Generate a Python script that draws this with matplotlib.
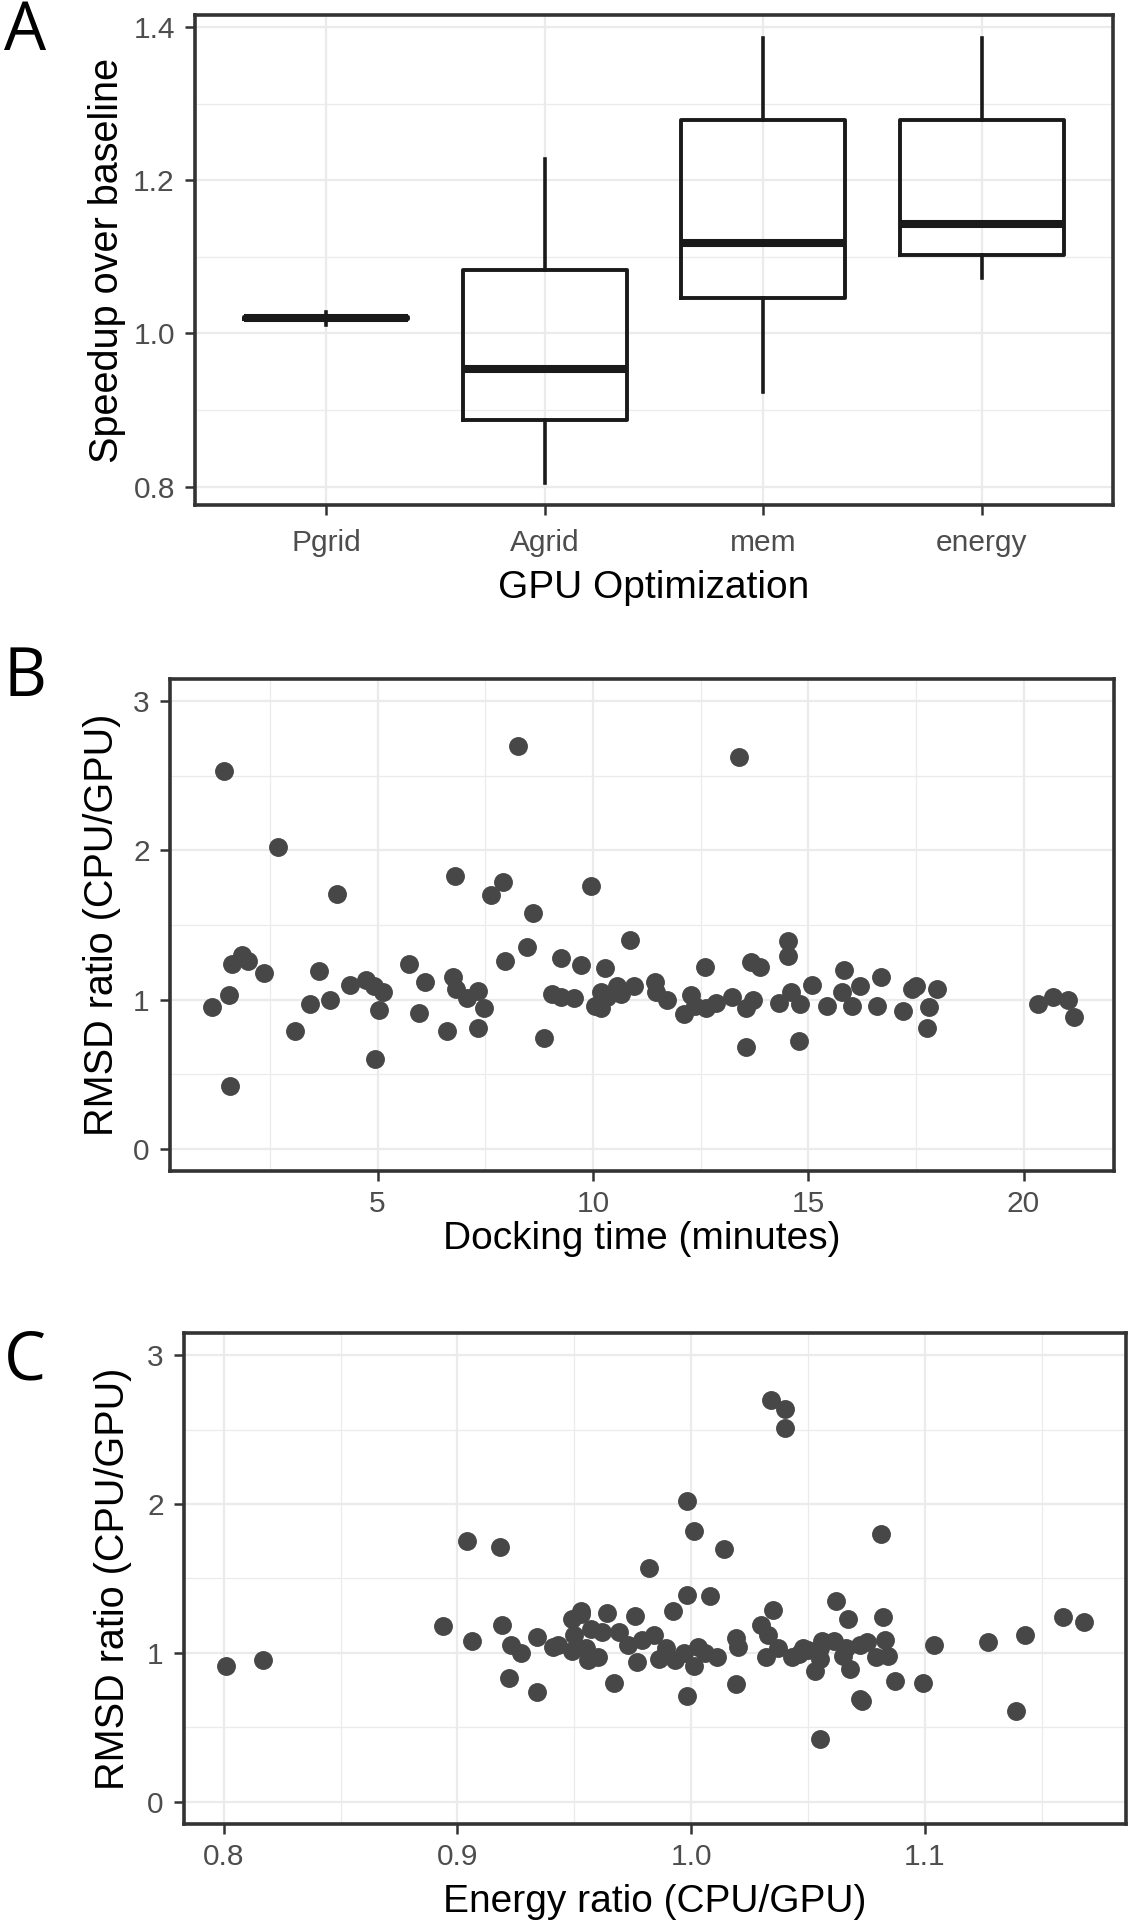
import matplotlib
matplotlib.use("Agg")
import matplotlib.pyplot as plt
from matplotlib.ticker import MultipleLocator


FIG_W, FIG_H = 1131, 1920
POINT_COLOR = '#474747'
GRID_COLOR = '#EBEBEB'
BORDER_COLOR = '#333333'
TICK_TEXT = '#4D4D4D'

# Panel A: speedup boxplots
opt_labels = ['Pgrid', 'Agrid', 'mem', 'energy']
speedup_low = [1.011, 0.805, 0.923, 1.072]
speedup_q1 = [1.019, 0.887, 1.047, 1.103]
speedup_med = [1.020, 0.953, 1.118, 1.143]
speedup_q3 = [1.021, 1.083, 1.279, 1.279]
speedup_high = [1.028, 1.228, 1.386, 1.386]

# Panel B: docking time vs RMSD ratio
dock_time = [1.16, 1.44, 1.54, 1.57, 1.62, 1.85, 2.00, 2.37, 2.69, 3.08,
             3.42, 3.63, 3.89, 4.06, 4.35, 4.74, 4.91, 4.95, 5.03, 5.12,
             5.74, 5.96, 6.09, 6.61, 6.75, 6.80, 6.81, 7.07, 7.33, 7.34,
             7.47, 7.63, 7.92, 7.95, 8.26, 8.47, 8.62, 8.86, 9.05, 9.25,
             9.27, 9.56, 9.72, 9.95, 10.05, 10.18, 10.18, 10.28, 10.33, 10.57,
             10.65, 10.86, 10.96, 11.45, 11.46, 11.73, 12.12, 12.28, 12.36, 12.60,
             12.63, 12.86, 13.24, 13.39, 13.56, 13.56, 13.66, 13.72, 13.87, 14.33,
             14.52, 14.54, 14.61, 14.79, 14.81, 15.08, 15.44, 15.79, 15.83, 16.02,
             16.20, 16.60, 16.70, 17.20, 17.40, 17.50, 17.76, 17.80, 18.00, 20.34,
             20.69, 21.03, 21.18]
dock_rmsd = [0.95, 2.53, 1.03, 0.42, 1.24, 1.30, 1.26, 1.18, 2.02, 0.79,
             0.97, 1.19, 1.00, 1.71, 1.10, 1.13, 1.09, 0.60, 0.93, 1.05,
             1.24, 0.91, 1.12, 0.79, 1.15, 1.83, 1.07, 1.01, 0.81, 1.06,
             0.94, 1.70, 1.79, 1.26, 2.70, 1.35, 1.58, 0.74, 1.04, 1.02,
             1.28, 1.01, 1.23, 1.76, 0.96, 1.05, 0.94, 1.21, 1.02, 1.09,
             1.04, 1.40, 1.09, 1.12, 1.05, 1.00, 0.90, 1.03, 0.96, 1.22,
             0.94, 0.98, 1.02, 2.63, 0.94, 0.68, 1.25, 1.00, 1.22, 0.98,
             1.39, 1.29, 1.05, 0.72, 0.97, 1.10, 0.96, 1.05, 1.20, 0.96,
             1.09, 0.96, 1.15, 0.92, 1.07, 1.09, 0.81, 0.95, 1.07, 0.97,
             1.02, 1.00, 0.88]

# Panel C: energy ratio vs RMSD ratio
energy_ratio = [0.801, 0.817, 0.894, 0.904, 0.906, 0.918, 0.919, 0.922, 0.923, 0.927,
                0.934, 0.934, 0.941, 0.943, 0.949, 0.949, 0.950, 0.953, 0.953, 0.955,
                0.956, 0.957, 0.960, 0.962, 0.964, 0.967, 0.969, 0.973, 0.976, 0.977,
                0.979, 0.982, 0.984, 0.986, 0.989, 0.992, 0.993, 0.997, 0.998, 0.998,
                0.998, 1.001, 1.001, 1.003, 1.006, 1.008, 1.011, 1.014, 1.019, 1.019,
                1.020, 1.030, 1.032, 1.033, 1.034, 1.035, 1.037, 1.040, 1.040, 1.043,
                1.046, 1.048, 1.050, 1.053, 1.055, 1.055, 1.055, 1.056, 1.061, 1.062,
                1.065, 1.066, 1.067, 1.068, 1.072, 1.072, 1.073, 1.075, 1.079, 1.081,
                1.082, 1.083, 1.084, 1.087, 1.099, 1.104, 1.127, 1.139, 1.143, 1.159,
                1.168]
energy_rmsd = [0.91, 0.95, 1.18, 1.75, 1.08, 1.71, 1.19, 0.83, 1.05, 1.00,
               1.11, 0.74, 1.04, 1.05, 1.23, 1.01, 1.12, 1.26, 1.28, 1.03,
               0.95, 1.16, 0.97, 1.14, 1.27, 0.80, 1.14, 1.05, 1.25, 0.94,
               1.09, 1.57, 1.12, 0.96, 1.03, 1.28, 0.95, 1.00, 2.02, 1.39,
               0.71, 0.91, 1.82, 1.04, 1.00, 1.38, 0.97, 1.70, 1.10, 0.79,
               1.04, 1.19, 0.97, 1.12, 2.70, 1.29, 1.03, 2.64, 2.51, 0.97,
               0.99, 1.03, 1.02, 0.88, 0.42, 1.03, 0.96, 1.08, 1.08, 1.35,
               0.98, 1.03, 1.23, 0.89, 1.05, 0.69, 0.68, 1.07, 0.97, 1.80,
               1.24, 1.09, 0.98, 0.81, 0.80, 1.05, 1.07, 0.61, 1.12, 1.24,
               1.21]


def px_axes(fig, left, top, right, bottom):
    return fig.add_axes([left / FIG_W, 1 - bottom / FIG_H,
                         (right - left) / FIG_W, (bottom - top) / FIG_H])


def style_axes(ax, xpad):
    # theme_bw look: light grid, dark border, grey tick labels
    ax.set_axisbelow(True)
    ax.grid(which='major', color=GRID_COLOR, linewidth=1.6)
    ax.grid(which='minor', color=GRID_COLOR, linewidth=0.9)
    for spine in ax.spines.values():
        spine.set_color(BORDER_COLOR)
        spine.set_linewidth(2.6)
    ax.tick_params(which='major', length=7, width=1.8, color=BORDER_COLOR,
                   labelsize=21.5, labelcolor=TICK_TEXT)
    ax.tick_params(axis='y', pad=7.5)
    ax.tick_params(axis='x', pad=xpad)
    ax.tick_params(which='minor', length=0)


plt.rcParams['font.family'] = ['Liberation Sans', 'DejaVu Sans']

fig = plt.figure(figsize=(FIG_W / 100, FIG_H / 100), dpi=100)

# ---- A ----
ax_a = px_axes(fig, 195, 15, 1113, 505)
stats = []
for i, lab in enumerate(opt_labels):
    stats.append({'label': lab, 'whislo': speedup_low[i], 'q1': speedup_q1[i],
                  'med': speedup_med[i], 'q3': speedup_q3[i],
                  'whishi': speedup_high[i], 'fliers': []})
ax_a.bxp(stats, positions=range(1, len(opt_labels) + 1), widths=0.75,
         showcaps=False,
         boxprops=dict(color='#1A1A1A', linewidth=2.8),
         whiskerprops=dict(color='#1A1A1A', linewidth=2.6),
         medianprops=dict(color='#1A1A1A', linewidth=5.8, solid_capstyle='butt'))
ax_a.set_xlim(0.4, len(opt_labels) + 0.6)
ax_a.set_ylim(0.776, 1.416)
ax_a.yaxis.set_major_locator(MultipleLocator(0.2))
ax_a.yaxis.set_minor_locator(MultipleLocator(0.1))
ax_a.yaxis.set_major_formatter(plt.FormatStrFormatter('%.1f'))
style_axes(ax_a, xpad=10.5)
ax_a.set_xlabel('GPU Optimization', fontsize=28, labelpad=9)
ax_a.set_ylabel('Speedup over baseline', fontsize=28.5, labelpad=5)

# ---- B ----
ax_b = px_axes(fig, 170, 679, 1114, 1171)
ax_b.scatter(dock_time, dock_rmsd, s=185, color=POINT_COLOR, linewidths=0, zorder=3)
ax_b.set_xlim(0.18, 22.1)
ax_b.set_ylim(-0.15, 3.15)
ax_b.xaxis.set_major_locator(MultipleLocator(5))
ax_b.xaxis.set_minor_locator(MultipleLocator(2.5))
ax_b.yaxis.set_major_locator(MultipleLocator(1))
ax_b.yaxis.set_minor_locator(MultipleLocator(0.5))
style_axes(ax_b, xpad=6.5)
ax_b.set_xlabel('Docking time (minutes)', fontsize=28, labelpad=2)
ax_b.set_ylabel('RMSD ratio (CPU/GPU)', fontsize=28.5, labelpad=9)

# ---- C ----
ax_c = px_axes(fig, 184, 1333, 1126, 1824)
ax_c.scatter(energy_ratio, energy_rmsd, s=185, color=POINT_COLOR, linewidths=0, zorder=3)
ax_c.set_xlim(0.783, 1.186)
ax_c.set_ylim(-0.15, 3.15)
ax_c.xaxis.set_major_locator(MultipleLocator(0.1))
ax_c.xaxis.set_minor_locator(MultipleLocator(0.05))
ax_c.xaxis.set_major_formatter(plt.FormatStrFormatter('%.1f'))
ax_c.yaxis.set_major_locator(MultipleLocator(1))
ax_c.yaxis.set_minor_locator(MultipleLocator(0.5))
style_axes(ax_c, xpad=7)
ax_c.set_xlabel('Energy ratio (CPU/GPU)', fontsize=28, labelpad=9)
ax_c.set_ylabel('RMSD ratio (CPU/GPU)', fontsize=28.5, labelpad=11)

# panel letters
for letter, top in [('A', -1), ('B', 645), ('C', 1328)]:
    fig.text(4 / FIG_W, 1 - top / FIG_H, letter, fontsize=48, family='Open Sans',
             ha='left', va='top')

fig.savefig('out.png', dpi=100)
